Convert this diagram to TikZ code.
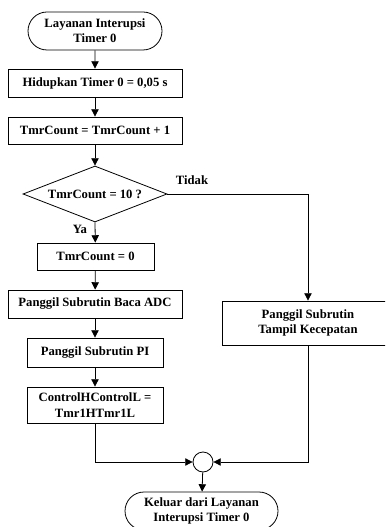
\documentclass[tikz,border=0pt]{standalone}
\usepackage{fontspec}
\setmainfont{Liberation Serif}
\usetikzlibrary{arrows.meta,shapes.misc,shapes.geometric}

\tikzset{every picture/.style={line width=0.6pt}}
\tikzset{
  huruf/.style={font=\fontsize{9.5}{11.5}\selectfont\bfseries},
  proses/.style={draw, rectangle, inner sep=0.75pt, align=center, huruf},
  terminal/.style={draw, rounded rectangle, inner sep=0.75pt, align=center, huruf},
  keputusan/.style={draw, diamond, aspect=2.57, inner sep=0pt, huruf},
  label/.style={inner sep=0.75pt, huruf},
  panah/.style={-{Triangle[length=5.5pt,width=5.5pt]}}
}

\begin{document}
\begin{tikzpicture}[x=0.75pt,y=0.75pt,yscale=-1,xscale=1]
		\path[use as bounding box, fill=white] (0,0) rectangle (385,527);
		\clip (0,0) rectangle (385,527);
		
		%Terminal: mulai
		\node [terminal, minimum width=102pt, minimum height=28.5pt] (mulai) at (95,31) {Layanan Interupsi\\Timer 0};
		%Shape: Rectangle
		\node [proses, minimum width=130.5pt, minimum height=21pt] (hidup) at (95,83) {Hidupkan Timer 0 = 0,05 s};
		\node [proses, minimum width=130.5pt, minimum height=20.25pt] (tambah) at (95,130.5) {TmrCount = TmrCount + 1};
		%Shape: Diamond
		\node [keputusan, minimum width=108pt, minimum height=42pt] (cek) at (95,194) {TmrCount = 10 ?};
		\node [proses, minimum width=87.75pt, minimum height=20.25pt] (reset) at (95.5,256.5) {TmrCount = 0};
		\node [proses, minimum width=130.5pt, minimum height=21pt] (adc) at (95,304) {Panggil Subrutin Baca ADC};
		\node [proses, minimum width=102pt, minimum height=21.75pt] (pi) at (95,352.5) {Panggil Subrutin PI};
		\node [proses, minimum width=102pt, minimum height=27pt] (kontrol) at (95,405) {ControlHControlL =\\Tmr1HTmr1L};
		\node [proses, minimum width=129pt, minimum height=33pt] (tampil) at (308,323) {Panggil Subrutin\\Tampil Kecepatan};
		%Connector
		\node [draw, circle, minimum size=15pt, inner sep=0pt] (gabung) at (203,462) {};
		%Terminal: keluar
		\node [terminal, minimum width=116.25pt, minimum height=28.5pt] (keluar) at (201.5,511) {Keluar dari Layanan\\Interupsi Timer 0};
		
		\draw [panah] (mulai) -- (hidup);
		\draw [panah] (hidup) -- (tambah);
		\draw [panah] (tambah) -- (cek);
		\draw [panah] (cek.south) -- (reset);
		\draw [panah] (reset) -- (adc);
		\draw [panah] (adc) -- (pi);
		\draw [panah] (pi) -- (kontrol);
		\draw [panah] (cek.east) -| (tampil.north);
		\draw [panah] (kontrol.south) |- (gabung.west);
		\draw [panah] (tampil.south) |- (gabung.east);
		\draw [panah] (gabung) -- (keluar);
		
		\node [label] (tidak) at (192,180) {Tidak};
		\node [label] (ya) at (80,229) {Ya};
		
	\end{tikzpicture}
\end{document}
